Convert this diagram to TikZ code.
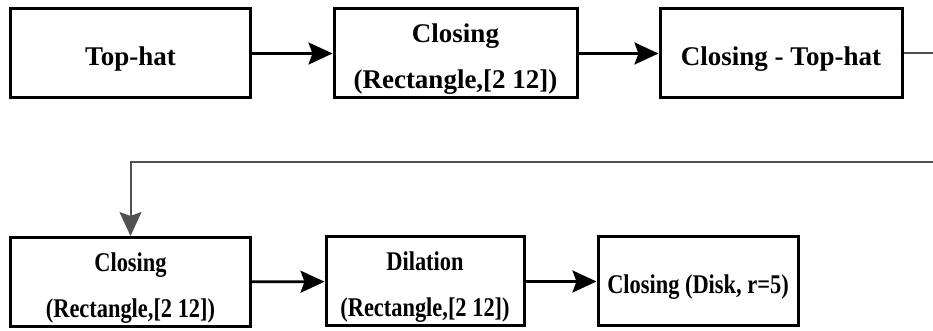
\documentclass[tikz,border=0pt]{standalone}
\usepackage{fontspec}
\setmainfont{Liberation Serif}
\newfontfamily\narrowserif[FakeStretch=0.83]{Liberation Serif}
\usetikzlibrary{arrows.meta}
\definecolor{backgray}{RGB}{80,80,80}
\newcommand{\toppad}{\rule{0pt}{15pt}}

\begin{document}
\begin{tikzpicture}[x=0.5pt,y=-0.5pt,
    stage/.style={draw,line width=1.5pt,align=center,inner sep=0pt,
      minimum height=44.5pt,font=\fontsize{13.5}{23}\selectfont\bfseries},
    narrow/.style={font=\fontsize{13.5}{23}\narrowserif\bfseries},
    flow/.style={-{Stealth[length=12pt,width=11pt,inset=2pt]},line width=1.3pt},
    back/.style={draw=backgray,line width=1pt}]
	\useasboundingbox (0,0) rectangle (933,331);

	% Top row
	\node[stage,minimum width=120pt] (tophat) at (130.5,53.5) {\toppad Top-hat};
	\node[stage,minimum width=121.5pt] (close1) at (455.5,53.5) {\toppad Closing\\(Rectangle,[2 12])};
	\node[stage,minimum width=121pt] (diff) at (781,53.5) {\toppad Closing - Top-hat};

	% Bottom row
	\node[stage,narrow,minimum width=120pt] (close2) at (130.5,282) {\toppad Closing\\(Rectangle,[2 12])};
	\node[stage,narrow,minimum width=99pt] (dilate) at (425,281.5) {\toppad Dilation\\(Rectangle,[2 12])};
	\node[stage,narrow,minimum width=100pt] (disk) at (698,281.5) {\toppad Closing (Disk, r=5)};

	% Arrows
	\draw[flow] (tophat) -- (close1);
	\draw[flow] (close1) -- (diff);
	\draw[flow] (close2) -- (dilate);
	\draw[flow] (dilate) -- (disk);

	% Feedback to second row
	\coordinate (outA) at (933,53.5);
	\coordinate (outB) at (933,162);
	\draw[back] (diff.east) -- (outA);
	\draw[back,-{Stealth[length=12pt,width=11pt,inset=2pt]}] (outB) -| (close2.north);
\end{tikzpicture}
\end{document}
